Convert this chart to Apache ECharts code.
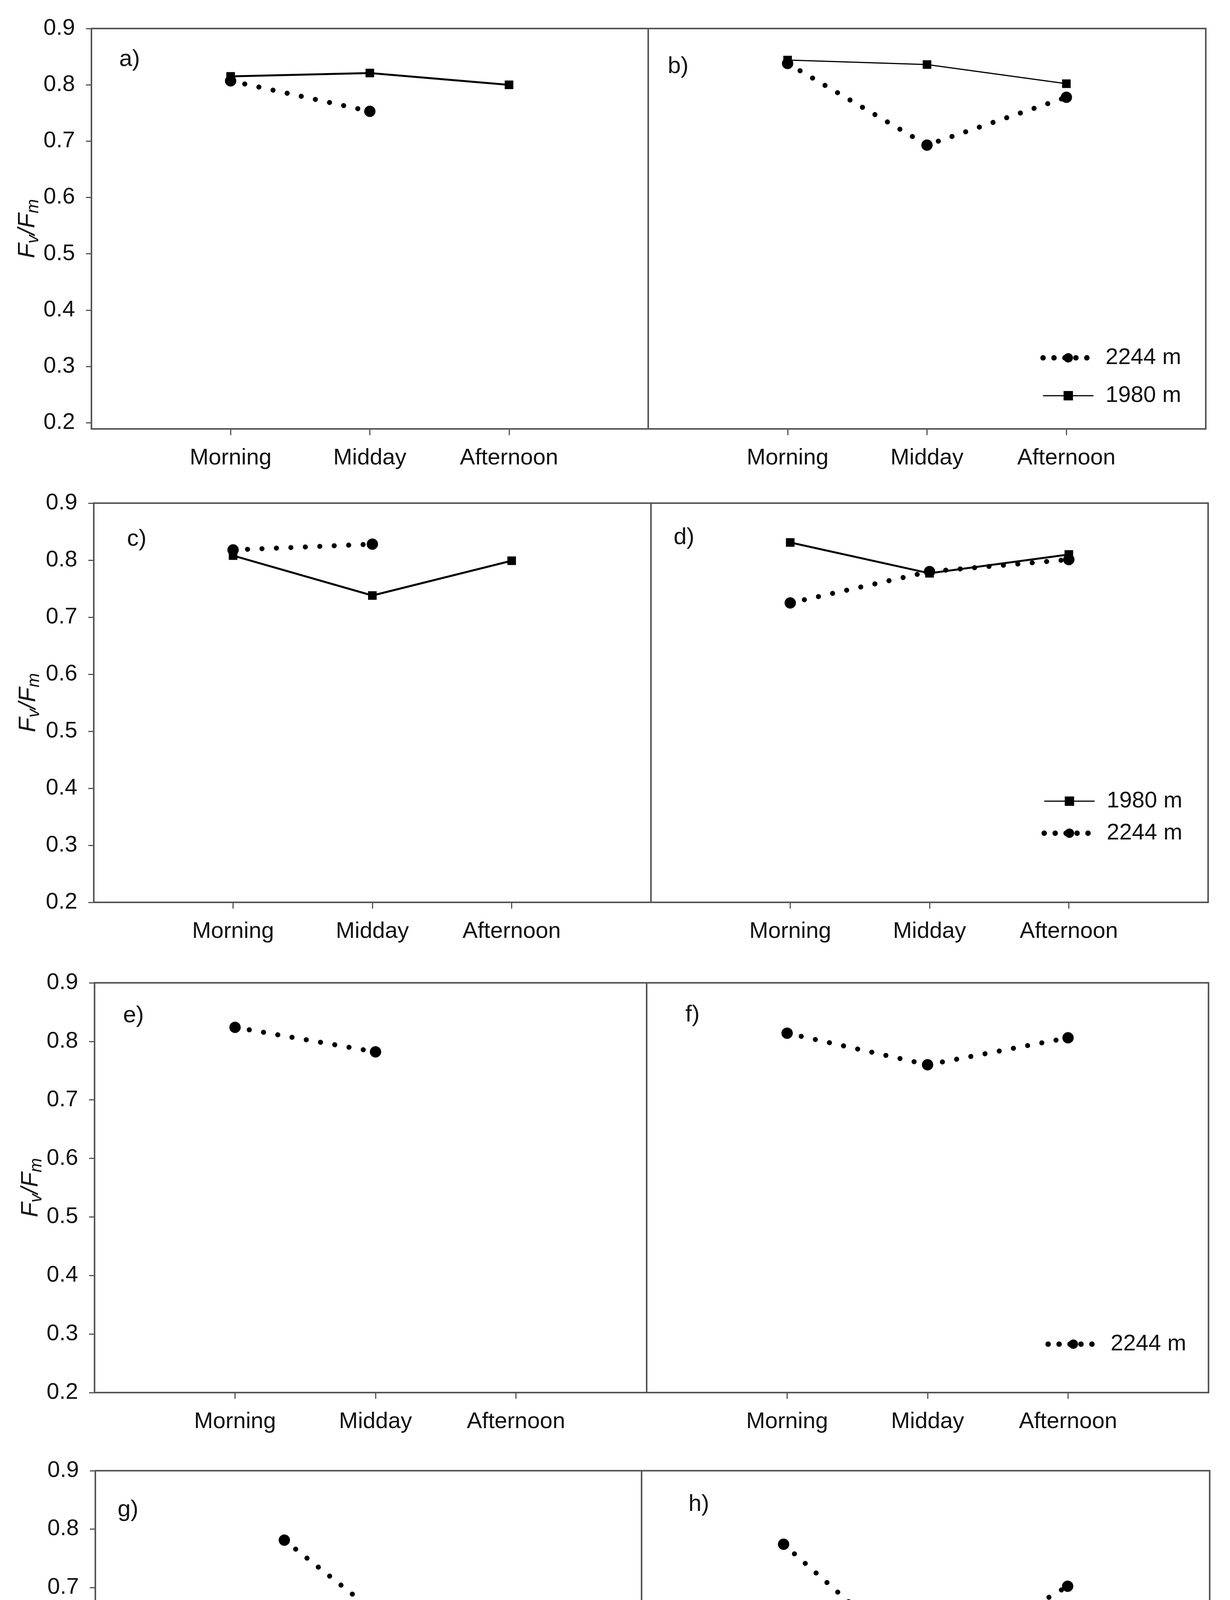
<!DOCTYPE html>
<html><head><meta charset="utf-8">
<script src="https://cdn.jsdelivr.net/npm/echarts@6/dist/echarts.min.js"></script>
<style>html,body{margin:0;padding:0;background:#fff}#c{width:3148px;height:4942px}</style>
</head><body><div id="c"></div>
<script>
// ---- data ----
const categories = ['Morning', 'Midday', 'Afternoon'];
const categoriesG = ['Morning', 'Midday'];
const yTickValues = [0.2, 0.3, 0.4, 0.5, 0.6, 0.7, 0.8, 0.9];
const panelLabels = ['a)', 'b)', 'c)', 'd)', 'e)', 'f)', 'g)', 'h)'];

const a1980 = [0.815, 0.821, 0.800];
const a2244 = [0.807, 0.753, null];
const b2244 = [0.838, 0.693, 0.778];
const b1980 = [0.844, 0.836, 0.802];
const c2244 = [0.818, 0.828, null];
const c1980 = [0.808, 0.738, 0.799];
const d1980 = [0.831, 0.777, 0.810];
const d2244 = [0.725, 0.780, 0.801];
const e2244 = [0.824, 0.782, null];
const f2244 = [0.814, 0.760, 0.806];
const g2244 = [0.781, 0.524];
const h2244 = [0.774, 0.559, 0.702];

// ---- layout ----
const FONT = 'Liberation Sans, Arial, sans-serif';
const AXC = '#555';
const AXW = 4;
const TXT = '#111';
const panels = [
  {left: 234, width: 1425, top: 73, height: 1025, ymin: 0.189, xmax: 4, cats: categories, yAxisShow: true, nameGap: 123, label: [305, 122],
   series: [{name: '1980 m', vals: a1980, w: 5}, {name: '2244 m', vals: a2244}]},
  {left: 1659, width: 1427, top: 73, height: 1025, ymin: 0.189, xmax: 4, cats: categories, yAxisShow: false, label: [1709, 140],
   series: [{name: '2244 m', vals: b2244}, {name: '1980 m', vals: b1980, w: 3}],
   legend: {order: ['2244 m', '1980 m'], right: 125, top: 886, gap: 37}},
  {left: 240, width: 1426, top: 1288, height: 1022, ymin: 0.2, xmax: 4, cats: categories, yAxisShow: true, nameGap: 130, label: [325, 1350],
   series: [{name: '2244 m', vals: c2244}, {name: '1980 m', vals: c1980, w: 5}]},
  {left: 1666, width: 1426, top: 1288, height: 1022, ymin: 0.2, xmax: 4, cats: categories, yAxisShow: false, label: [1724, 1346],
   series: [{name: '1980 m', vals: d1980, w: 5}, {name: '2244 m', vals: d2244}],
   legend: {order: ['1980 m', '2244 m'], right: 122, top: 2021, gap: 22}},
  {left: 242, width: 1413, top: 2516, height: 1049, ymin: 0.2, xmax: 3.93, cats: categories, yAxisShow: true, nameGap: 120, label: [315, 2570],
   series: [{name: '2244 m', vals: e2244}]},
  {left: 1655, width: 1438, top: 2516, height: 1049, ymin: 0.2, xmax: 4, cats: categories, yAxisShow: false, label: [1754, 2568],
   series: [{name: '2244 m', vals: f2244}],
   legend: {order: ['2244 m'], right: 112, top: 3411, gap: 20}},
  {left: 244, width: 1398, top: 3765, height: 1046, ymin: 0.2, xmax: 2.89, cats: categoriesG, yAxisShow: true, nameGap: 110, label: [301, 3835],
   series: [{name: '2244 m', vals: g2244}]},
  {left: 1642, width: 1454, top: 3765, height: 1046, ymin: 0.2, xmax: 4, cats: categories, yAxisShow: false, label: [1762, 3821],
   series: [{name: '2244 m', vals: h2244}],
   legend: {order: ['2244 m'], right: 125, top: 4652, gap: 20}}
];

const DOT = {color: '#000', width: 13, type: [0.01, 37], cap: 'round'};

function lineSeries(s, idx) {
  const data = s.vals.map((v, i) => [i + 1, v]).filter(p => p[1] !== null);
  const is2244 = s.name === '2244 m';
  return {
    type: 'line', name: s.name, xAxisIndex: idx, yAxisIndex: idx,
    data: data,
    symbol: is2244 ? 'circle' : 'rect',
    symbolSize: is2244 ? 29 : 22,
    showSymbol: true,
    lineStyle: is2244 ? DOT : {color: '#000', width: s.w || 4},
    itemStyle: {color: '#000'},
    z: is2244 ? 4 : 3,
    silent: true
  };
}

const grid = [], xAxis = [], yAxis = [], series = [], legend = [], title = [];
panels.forEach((p, idx) => {
  grid.push({left: p.left, top: p.top, width: p.width, height: p.height, show: true,
             borderColor: AXC, borderWidth: AXW, backgroundColor: 'transparent', containLabel: false});
  const tickVals = p.cats.map((c, i) => i + 1);
  xAxis.push({
    type: 'value', gridIndex: idx, min: 0, max: p.xmax,
    axisLine: {show: true, onZero: false, lineStyle: {color: AXC, width: AXW}},
    axisTick: {show: true, length: 16, customValues: tickVals, lineStyle: {color: AXC, width: 3}},
    axisLabel: {show: true, customValues: tickVals, fontSize: 58, fontFamily: FONT, color: TXT, margin: 46,
                formatter: v => p.cats[Math.round(v) - 1] || ''},
    splitLine: {show: false}
  });
  const y = {
    type: 'value', gridIndex: idx, min: p.ymin, max: 0.9,
    axisLine: {show: true, lineStyle: {color: AXC, width: AXW}},
    axisTick: {show: p.yAxisShow, length: 14, customValues: yTickValues, lineStyle: {color: AXC, width: 3}},
    axisLabel: {show: p.yAxisShow, customValues: yTickValues, fontSize: 58, fontFamily: FONT, color: TXT, margin: 42,
                formatter: v => Number(v).toFixed(1)},
    splitLine: {show: false}
  };
  if (p.yAxisShow) {
    y.name = '{i|F}{s|v}{i|/F}{s|m}';
    y.nameLocation = 'middle';
    y.nameRotate = 90;
    y.nameGap = p.nameGap;
    y.nameTextStyle = {
      rich: {
        i: {fontSize: 62, fontStyle: 'italic', fontFamily: FONT, color: TXT, lineHeight: 74, verticalAlign: 'middle'},
        s: {fontSize: 44, fontStyle: 'italic', fontFamily: FONT, color: TXT, lineHeight: 74, verticalAlign: 'bottom'}
      }
    };
  }
  yAxis.push(y);
  p.series.forEach(s => series.push(lineSeries(s, idx)));
  if (p.legend) {
    legend.push({
      orient: 'vertical', right: p.legend.right, top: p.legend.top, padding: 0,
      itemWidth: 129, itemHeight: 30, itemGap: p.legend.gap, selectedMode: false,
      textStyle: {fontSize: 58, fontFamily: FONT, color: TXT, lineHeight: 60, padding: [0, 0, 0, 26]},
      data: p.legend.order.map(n => n === '2244 m'
        ? {name: n, lineStyle: {width: 14, type: [0.01, 28], cap: 'round', color: '#000'}}
        : {name: n, lineStyle: {width: 3, color: '#000'}})
    });
  }
  title.push({text: panelLabels[idx], left: p.label[0], top: p.label[1], padding: 0,
              textStyle: {fontSize: 60, fontWeight: 'normal', fontFamily: FONT, color: TXT}});
});

const chart = echarts.init(document.getElementById('c'), null, {renderer: 'canvas'});
chart.setOption({
  backgroundColor: '#fff',
  animation: false,
  title, grid, xAxis, yAxis, series, legend
});
</script>
</body></html>
